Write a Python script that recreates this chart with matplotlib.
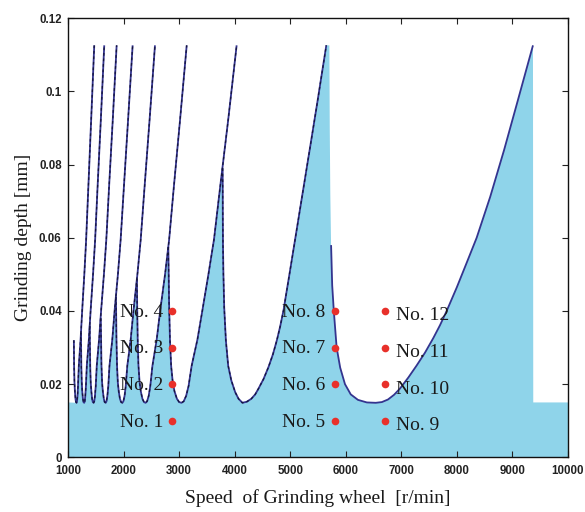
import numpy as np
import matplotlib
matplotlib.use("Agg")
import matplotlib.pyplot as plt

# Stability lobes: spindle speed [r/min] and limiting grinding depth [mm]
lobe1_speed = [5705, 5712, 5722, 5736, 5756, 5785, 5836, 5900, 5986, 6090, 6220, 6380, 6540,
               6650, 6760, 6870, 6976, 7126, 7276, 7426, 7576, 7696, 7816, 8000, 8180, 8356,
               8600, 8850, 9100, 9370]
lobe1_depth = [0.1126, 0.090, 0.072, 0.058, 0.047, 0.040, 0.030, 0.0245, 0.0200, 0.0172, 0.0157, 0.0150, 0.0149,
               0.0151, 0.0158, 0.0171, 0.0188, 0.0218, 0.0251, 0.0286, 0.0326, 0.0361, 0.0400, 0.0465, 0.0533, 0.0600,
               0.0712, 0.0840, 0.0977, 0.1126]

lobe2_speed = [3784, 3787, 3790, 3798, 3812, 3842, 3884, 3940, 4010, 4070, 4140,
               4220, 4300, 4370, 4430, 4520, 4610, 4690, 4760, 4820, 4880, 4960, 5040, 5120,
               5230, 5350, 5480, 5650]
lobe2_depth = [0.079, 0.066, 0.058, 0.050, 0.041, 0.032, 0.0250, 0.0210, 0.0178, 0.0160, 0.0149,
               0.0152, 0.0160, 0.0172, 0.0188, 0.0214, 0.0247, 0.0282, 0.0320, 0.0358, 0.0402, 0.0476, 0.0550, 0.0625,
               0.0728, 0.0840, 0.0962, 0.1126]

lobe3_speed = [2806, 2820, 2836, 2857, 2886, 2918, 2961, 3001, 3043,
               3083, 3127, 3171, 3226, 3330, 3420, 3530, 3628, 3740, 3886, 4036]
lobe3_depth = [0.0575, 0.042, 0.032, 0.025, 0.0205, 0.018, 0.016, 0.0151, 0.0149,
               0.0153, 0.0168, 0.0195, 0.025, 0.0322, 0.0402, 0.0502, 0.0595, 0.074, 0.0925, 0.1126]

lobe4_speed = [2241, 2245, 2255, 2269, 2289, 2311, 2340, 2368, 2397,
               2424, 2453, 2482, 2520, 2597, 2661, 2749, 2821, 2906, 3019, 3137]
lobe4_depth = [0.0488, 0.042, 0.032, 0.025, 0.0205, 0.018, 0.016, 0.0151, 0.0149,
               0.0153, 0.0168, 0.0195, 0.025, 0.0322, 0.0402, 0.0502, 0.0595, 0.074, 0.0925, 0.1126]

lobe5_speed = [1863, 1865, 1873, 1883, 1897, 1914, 1935, 1956, 1978,
               1997, 2019, 2040, 2068, 2129, 2180, 2251, 2309, 2379, 2470, 2566]
lobe5_depth = [0.0439, 0.042, 0.032, 0.025, 0.0205, 0.018, 0.016, 0.0151, 0.0149,
               0.0153, 0.0168, 0.0195, 0.025, 0.0322, 0.0402, 0.0502, 0.0595, 0.074, 0.0925, 0.1126]

lobe6_speed = [1590, 1596, 1603, 1614, 1628, 1645, 1660, 1679,
               1693, 1709, 1726, 1747, 1798, 1840, 1900, 1948, 2007, 2083, 2164]
lobe6_depth = [0.038, 0.032, 0.025, 0.0205, 0.018, 0.016, 0.0151, 0.0149,
               0.0153, 0.0168, 0.0195, 0.025, 0.0322, 0.0402, 0.0502, 0.0595, 0.074, 0.0925, 0.1126]

lobe7_speed = [1392, 1394, 1400, 1409, 1421, 1434, 1447, 1462,
               1473, 1486, 1500, 1518, 1560, 1597, 1648, 1690, 1740, 1807, 1876]
lobe7_depth = [0.036, 0.032, 0.025, 0.0205, 0.018, 0.016, 0.0151, 0.0149,
               0.0153, 0.0168, 0.0195, 0.025, 0.0322, 0.0402, 0.0502, 0.0595, 0.074, 0.0925, 0.1126]

lobe8_speed = [1233, 1235, 1240, 1248, 1257, 1269, 1279, 1292,
               1302, 1312, 1323, 1339, 1376, 1408, 1452, 1489, 1533, 1592, 1653]
lobe8_depth = [0.034, 0.032, 0.025, 0.0205, 0.018, 0.016, 0.0151, 0.0149,
               0.0153, 0.0168, 0.0195, 0.025, 0.0322, 0.0402, 0.0502, 0.0595, 0.074, 0.0925, 0.1126]

lobe9_speed = [1106, 1110, 1117, 1125, 1135, 1144, 1155,
               1163, 1172, 1181, 1195, 1227, 1256, 1295, 1327, 1367, 1418, 1473]
lobe9_depth = [0.032, 0.025, 0.0205, 0.018, 0.016, 0.0151, 0.0149,
               0.0153, 0.0168, 0.0195, 0.025, 0.0322, 0.0402, 0.0502, 0.0595, 0.074, 0.0925, 0.1126]

# Stable floor of the region outside the lobes
stable_floor = 0.015

# Test points
test_speed = [2880, 5800, 6700]
test_depth = [0.01, 0.02, 0.03, 0.04]
test_names = [["No. 1", "No. 2", "No. 3", "No. 4"],
              ["No. 5", "No. 6", "No. 7", "No. 8"],
              ["No. 9", "No. 10", "No. 11", "No. 12"]]

x_ticks = [1000, 2000, 3000, 4000, 5000, 6000, 7000, 8000, 9000, 10000]
y_ticks = [0, 0.02, 0.04, 0.06, 0.08, 0.1, 0.12]
y_ticklabels = ["0", "0.02", "0.04", "0.06", "0.08", "0.1", "0.12"]

lobes = [(lobe9_speed, lobe9_depth), (lobe8_speed, lobe8_depth), (lobe7_speed, lobe7_depth),
         (lobe6_speed, lobe6_depth), (lobe5_speed, lobe5_depth), (lobe4_speed, lobe4_depth),
         (lobe3_speed, lobe3_depth), (lobe2_speed, lobe2_depth), (lobe1_speed, lobe1_depth)]

fig = plt.figure(figsize=(5.85, 5.12), dpi=100)
ax = fig.add_axes([0.1162, 0.1068, 0.8547, 0.8575])

# Stable region: the lower envelope of the lobes
env_x = [x_ticks[0], x_ticks[0]]
env_y = [0.0, stable_floor]
for i, (sp, dp) in enumerate(lobes):
    sp = np.asarray(sp, float)
    dp = np.asarray(dp, float)
    start = int(np.argmin(dp)) if i == 0 else 0
    idx = np.arange(start, len(sp))
    if i + 1 < len(lobes):
        nxt = lobes[i + 1][0][0]
        idx = idx[sp[idx] < nxt]
    env_x.extend(sp[idx])
    env_y.extend(dp[idx])
env_x += [lobe1_speed[-1] + 5, x_ticks[-1], x_ticks[-1]]
env_y += [stable_floor, stable_floor, 0.0]
ax.fill(env_x, env_y, color="#8fd4ea", lw=0, zorder=1)

# Lobe curves; the steep flank of the last lobe is left as the fill edge
for k, (sp, dp) in enumerate(lobes):
    sp = np.asarray(sp, float)
    dp = np.asarray(dp, float)
    if k == len(lobes) - 1:
        first = int(np.argmax(dp <= 0.06))
        sp, dp = sp[first:], dp[first:]
    ax.plot(sp, dp, color="#34348f", lw=1.3, zorder=3, solid_capstyle="butt")
    if k < len(lobes) - 1:
        ax.plot(sp, dp, color="#15153a", lw=0.9, ls=(0, (2.2, 2.2)), zorder=4)

# Test points and their labels
serif = ["Liberation Serif", "DejaVu Serif"]
for col, (xs, names) in enumerate(zip(test_speed, test_names)):
    ax.plot([xs] * len(test_depth), test_depth, "o", color="#e8302a", ms=5.5,
            mec="none", zorder=6)
    for yv, name in zip(test_depth, names):
        if col < 2:
            ax.annotate(name, (xs, yv), xytext=(-6.5, -1.0), textcoords="offset points",
                        ha="right", va="center", fontsize=14, family=serif,
                        color="#1a1a1a", zorder=7)
        else:
            ax.annotate(name, (xs, yv), xytext=(8, -3.5), textcoords="offset points",
                        ha="left", va="center", fontsize=14, family=serif,
                        color="#1a1a1a", zorder=7)

ax.set_xlim(1000, 10000)
ax.set_ylim(0, 0.12)
ax.set_xticks(x_ticks)
ax.set_xticklabels([str(v) for v in x_ticks])
ax.set_yticks(y_ticks)
ax.set_yticklabels(y_ticklabels)
ax.tick_params(direction="in", length=4, width=0.8, top=True, right=True,
               labelsize=8.3, colors="#222222", pad=4)
ax.tick_params(axis="x", pad=5.5)
ax.tick_params(axis="y", pad=4.5)
for lab in ax.get_xticklabels() + ax.get_yticklabels():
    lab.set_fontweight("bold")
    lab.set_family(["Liberation Sans", "DejaVu Sans"])
for s in ax.spines.values():
    s.set_linewidth(1.0)
    s.set_color("#111111")

ax.set_xlabel("Speed  of Grinding wheel  [r/min]", fontsize=14, family=serif,
              color="#1a1a1a", labelpad=9)
ax.set_ylabel("Grinding depth [mm]", fontsize=14, family=serif,
              color="#1a1a1a", labelpad=5)

fig.savefig("out.png", dpi=100)
